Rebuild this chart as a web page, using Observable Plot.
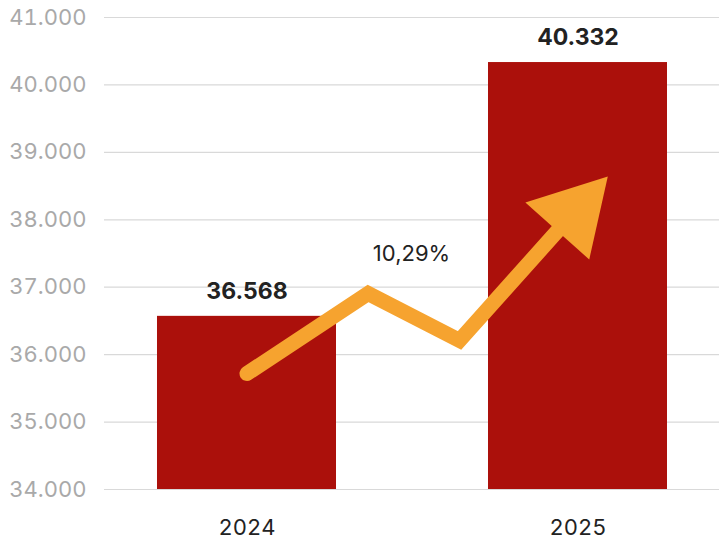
<!DOCTYPE html>
<html>
<head>
<meta charset="utf-8">
<script src="https://cdn.jsdelivr.net/npm/d3@7"></script>
<script src="https://cdn.jsdelivr.net/npm/@observablehq/plot@0.6"></script>
<style>
  html, body { margin: 0; padding: 0; background: #fff; }
  #chart svg { display: block; font-family: Inter, "Noto Sans", sans-serif; }
</style>
</head>
<body>
<div id="chart"></div>
<script>
const years = [2024, 2025];
const values = [36568, 40332];
const valueLabels = ["36.568", "40.332"];
const yTicks = [34000, 35000, 36000, 37000, 38000, 39000, 40000, 41000];
const yTickLabels = ["34.000", "35.000", "36.000", "37.000", "38.000", "39.000", "40.000", "41.000"];
const changeLabel = "10,29%";
const changeX = [2024.497];
const changeY = [37500];
// decorative trend arrow, in data units (year position, value)
const trendX = [2024.0, 2024.366, 2024.642, 2024.95];
const trendY = [35720, 36907, 36210, 37900];
const headX = [2024.841, 2025.09, 2025.034];
const headY = [38256, 38642, 37411];

const barHalf = 0.2704;
const bars = years.map((y, i) => ({year: y, value: values[i], label: valueLabels[i]}));
const trend = trendX.map((x, i) => ({x, y: trendY[i]}));
const head = headX.map((x, i) => ({x, y: headY[i]}));
const tickLabel = new Map(yTicks.map((t, i) => [t, yTickLabels[i]]));

const chart = Plot.plot({
  width: 719,
  height: 542,
  marginTop: 17,
  marginBottom: 53,
  marginLeft: 104,
  marginRight: 0,
  style: {fontFamily: "Inter, 'Noto Sans', sans-serif", background: "#fff"},
  x: {domain: [2023.5695, 2025.4275], label: null},
  y: {domain: [34000, 41000], label: null},
  marks: [
    Plot.ruleY(yTicks, {stroke: "#d9d9d9", strokeWidth: 1.2}),
    Plot.rectY(bars, {
      x1: d => d.year - barHalf,
      x2: d => d.year + barHalf,
      y1: 34000,
      y2: "value",
      fill: "#ab100b"
    }),
    Plot.text(bars, {
      x: "year", y: "value", text: "label",
      dy: -25, fontSize: 23, fontWeight: 700, fill: "#222"
    }),
    Plot.line(trend, {
      x: "x", y: "y", stroke: "#f6a32f", strokeWidth: 15,
      strokeLinecap: "round", strokeLinejoin: "miter", strokeMiterlimit: 10
    }),
    Plot.line(head, {
      x: "x", y: "y", fill: "#f6a32f", stroke: "none", curve: "linear-closed"
    }),
    Plot.text(changeX.map((x, i) => ({x, y: changeY[i], t: changeLabel})), {
      x: "x", y: "y", text: "t", fontSize: 22, fill: "#222"
    }),
    Plot.axisY(yTicks, {
      tickSize: 0, tickPadding: 18, fontSize: 22, fill: "#a9a9a9",
      tickFormat: d => tickLabel.get(d), label: null
    }),
    Plot.axisX(years, {
      tickSize: 0, tickPadding: 30, fontSize: 22, fill: "#222",
      tickFormat: d => String(d), label: null
    })
  ]
});
document.getElementById("chart").append(chart);
</script>
</body>
</html>
